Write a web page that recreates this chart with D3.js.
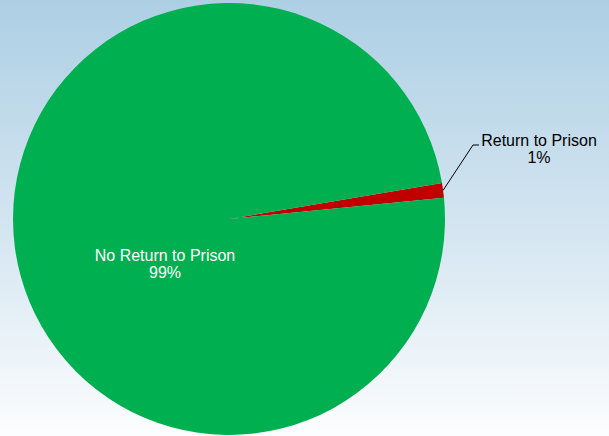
<!DOCTYPE html>
<html>
<head>
<meta charset="utf-8">
<script src="https://cdn.jsdelivr.net/npm/d3@7"></script>
<style>
  body { margin: 0; }
  svg { display: block; }
</style>
</head>
<body>
<svg width="609" height="436"></svg>
<script>
var categories = ["Return to Prison", "No Return to Prison"];
var values = [1.1, 98.9];
var pctLabels = ["1%", "99%"];
var colors = ["#c00000", "#00b050"];

var svg = d3.select("svg"),
    width = +svg.attr("width"),
    height = +svg.attr("height");

// background gradient
var grad = svg.append("defs").append("linearGradient")
    .attr("id", "bg").attr("x1", 0).attr("y1", 0).attr("x2", 0).attr("y2", 1);
grad.append("stop").attr("offset", "0%").attr("stop-color", "#adcfe4");
grad.append("stop").attr("offset", "50%").attr("stop-color", "#d2e4f0");
grad.append("stop").attr("offset", "100%").attr("stop-color", "#fcfdfe");
svg.append("rect").attr("width", width).attr("height", height).attr("fill", "url(#bg)");

var cx = 229, cy = 219, radius = 216;
var g = svg.append("g").attr("transform", "translate(" + cx + "," + cy + ")");

var start = 80.4 * Math.PI / 180;
var pie = d3.pie().sort(null).value(function (d) { return d; })
    .startAngle(start).endAngle(start + 2 * Math.PI);
var arcs = pie(values);
var arc = d3.arc().innerRadius(0).outerRadius(radius);

g.selectAll("path").data(arcs).enter().append("path")
    .attr("d", arc)
    .attr("fill", function (d, i) { return colors[i]; });

// label for big slice (inside)
var font = "'Liberation Sans', Arial, sans-serif";
var inner = g.append("text")
    .attr("text-anchor", "middle")
    .attr("font-family", font).attr("font-size", 16)
    .attr("fill", "#ffffff");
inner.append("tspan").attr("x", -64).attr("y", 42).text(categories[1]);
inner.append("tspan").attr("x", -64).attr("y", 59).text(pctLabels[1]);

// label for small slice (outside with leader line)
var mid = (arcs[0].startAngle + arcs[0].endAngle) / 2;
var ex = Math.sin(mid) * radius, ey = -Math.cos(mid) * radius;
g.append("polyline")
    .attr("points", [[ex, ey], [244, -74], [250, -74]].map(function (p) { return p.join(","); }).join(" "))
    .attr("fill", "none").attr("stroke", "#000").attr("stroke-width", 1);
var outer = g.append("text")
    .attr("text-anchor", "middle")
    .attr("font-family", font).attr("font-size", 16)
    .attr("fill", "#000");
outer.append("tspan").attr("x", 310).attr("y", -73).text(categories[0]);
outer.append("tspan").attr("x", 310).attr("y", -56).text(pctLabels[0]);
</script>
</body>
</html>
